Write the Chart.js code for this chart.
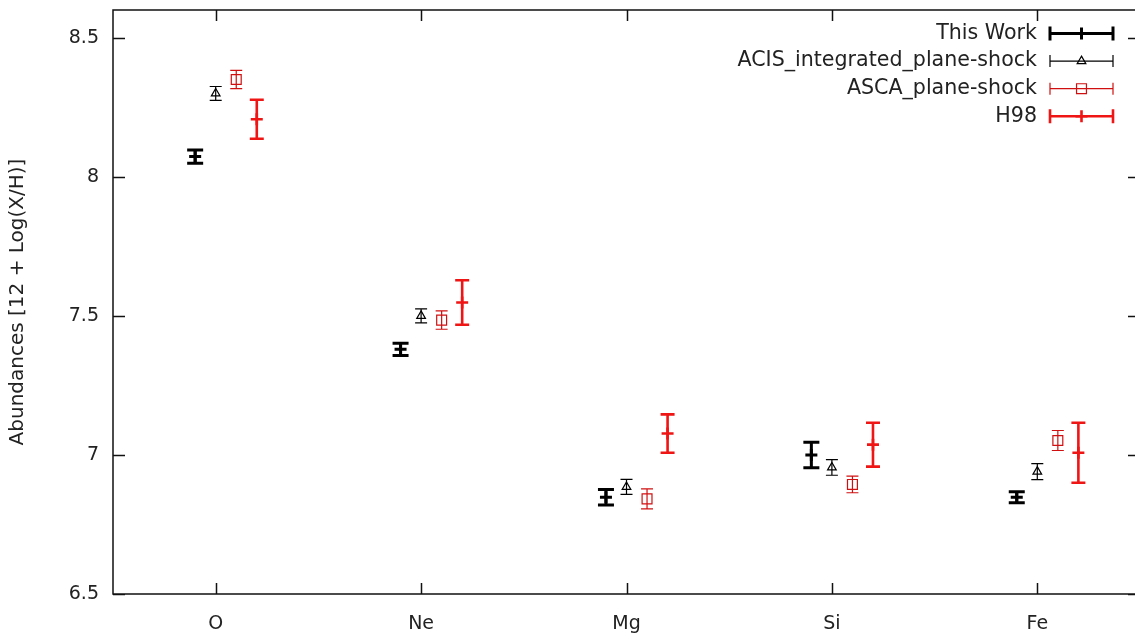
<!DOCTYPE html>
<html>
<head>
<meta charset="utf-8">
<script src="https://cdn.jsdelivr.net/npm/chart.js@4/dist/chart.umd.min.js"></script>
<style>
  html, body { margin: 0; padding: 0; background: #fff; overflow: hidden; }
</style>
</head>
<body>
<!-- the right frame edge sits just past the window, so the canvas runs a bit wider -->
<canvas id="abund" width="1149" height="637"></canvas>
<script>
const elements = ['O', 'Ne', 'Mg', 'Si', 'Fe'];
const yTicks = [6.5, 7, 7.5, 8, 8.5];

const thisWork    = [8.073, 7.380, 6.848, 7.000, 6.848];
const thisWorkErr = [0.024, 0.022, 0.028, 0.046, 0.020];
const acis        = [8.300, 7.500, 6.885, 6.955, 6.940];
const acisErr     = [0.025, 0.025, 0.027, 0.028, 0.029];
const asca        = [8.350, 7.485, 6.842, 6.894, 7.052];
const ascaErr     = [0.033, 0.033, 0.036, 0.030, 0.036];
const h98         = [8.207, 7.548, 7.077, 7.037, 7.008];
const h98Err      = [0.070, 0.080, 0.069, 0.079, 0.108];

const FONT = 'DejaVu Sans';
const TEXT = '#222';

// one entry per data set: values, errors, horizontal shift and look
const series = [
  { label: 'This Work', values: thisWork, errs: thisWorkErr, shift: -0.1,
    color: '#000', width: 3, cap: 8, style: 'cross', radius: 6, mw: 3 },
  { label: 'ACIS_integrated_plane-shock', values: acis, errs: acisErr, shift: 0,
    color: '#000', width: 1.2, cap: 6, style: 'triangle', radius: 5, mw: 1.2 },
  { label: 'ASCA_plane-shock', values: asca, errs: ascaErr, shift: 0.1,
    color: '#d01010', width: 1.2, cap: 6, style: 'rect', radius: 7, mw: 1.2 },
  { label: 'H98', values: h98, errs: h98Err, shift: 0.2,
    color: '#f01515', width: 2.6, cap: 7, style: 'cross', radius: 6, mw: 2.6 }
];

// plot frame with gnuplot-like inward ticks
const frame = {
  id: 'frame',
  beforeDatasetsDraw(chart) {
    const { ctx, chartArea: a, scales: { x, y } } = chart;
    ctx.save();
    ctx.strokeStyle = '#111';
    ctx.lineWidth = 1.5;
    ctx.beginPath();
    ctx.moveTo(a.right, a.top); ctx.lineTo(a.left, a.top);
    ctx.lineTo(a.left, a.bottom); ctx.lineTo(a.right, a.bottom);
    ctx.lineTo(a.right, a.top);
    y.ticks.forEach(t => {
      const py = Math.round(y.getPixelForValue(t.value)) + 0.5;
      ctx.moveTo(a.left, py); ctx.lineTo(a.left + 12, py);
      ctx.moveTo(a.right - 12, py); ctx.lineTo(a.right, py);
    });
    x.ticks.forEach(t => {
      const px = Math.round(x.getPixelForValue(t.value)) + 0.5;
      ctx.moveTo(px, a.bottom); ctx.lineTo(px, a.bottom - 11);
      ctx.moveTo(px, a.top); ctx.lineTo(px, a.top + 11);
    });
    ctx.stroke();
    ctx.restore();
  }
};

const errorBars = {
  id: 'errorBars',
  beforeDatasetsDraw(chart) {
    const { ctx, scales: { x, y } } = chart;
    series.forEach(s => {
      ctx.save();
      ctx.strokeStyle = s.color;
      ctx.lineWidth = s.width;
      ctx.beginPath();
      s.values.forEach((v, i) => {
        const px = x.getPixelForValue(i + 1 + s.shift);
        const top = y.getPixelForValue(v + s.errs[i]);
        const bot = y.getPixelForValue(v - s.errs[i]);
        ctx.moveTo(px, top); ctx.lineTo(px, bot);
        ctx.moveTo(px - s.cap, top); ctx.lineTo(px + s.cap, top);
        ctx.moveTo(px - s.cap, bot); ctx.lineTo(px + s.cap, bot);
      });
      ctx.stroke();
      ctx.restore();
    });
  }
};

// key in the top right corner: label, then a sample error bar
const key = {
  id: 'key',
  afterDraw(chart) {
    const { ctx } = chart;
    ctx.save();
    ctx.font = `20.6px "${FONT}"`;
    ctx.textAlign = 'right';
    ctx.textBaseline = 'middle';
    series.forEach((s, i) => {
      const ky = 33.5 + i * 27.6;
      ctx.fillStyle = TEXT;
      ctx.fillText(s.label, 1037, ky);
      const x0 = 1050, x1 = 1113, h = s.width > 2 ? 7 : 6;
      ctx.strokeStyle = s.color;
      ctx.lineWidth = s.width;
      ctx.beginPath();
      ctx.moveTo(x0, ky); ctx.lineTo(x1, ky);
      ctx.moveTo(x0, ky - h); ctx.lineTo(x0, ky + h);
      ctx.moveTo(x1, ky - h); ctx.lineTo(x1, ky + h);
      ctx.stroke();
      ctx.fillStyle = 'rgba(0,0,0,0)';
      ctx.lineWidth = s.mw;
      Chart.helpers.drawPoint(ctx, { pointStyle: s.style, radius: s.radius, rotation: 0, borderWidth: s.mw },
        (x0 + x1) / 2, ky);
    });
    ctx.restore();
  }
};

new Chart(document.getElementById('abund'), {
  type: 'scatter',
  data: {
    datasets: series.map(s => ({
      label: s.label,
      data: s.values.map((v, i) => ({ x: i + 1 + s.shift, y: v })),
      pointStyle: s.style,
      pointRadius: s.radius,
      pointHoverRadius: s.radius,
      borderColor: s.color,
      borderWidth: s.mw,
      backgroundColor: 'rgba(0,0,0,0)',
      showLine: false
    }))
  },
  options: {
    responsive: false,
    devicePixelRatio: 1,
    animation: false,
    layout: { padding: { top: 10, right: 0, bottom: 0, left: 0 } },
    plugins: { legend: { display: false }, tooltip: { enabled: false } },
    scales: {
      x: {
        type: 'linear',
        min: 0.5,
        max: 5.5,
        afterBuildTicks: s => { s.ticks = elements.map((_, i) => ({ value: i + 1 })); },
        afterFit: s => { s.height = 43; s.paddingLeft = 0; s.paddingRight = 0; },
        grid: { display: false, drawTicks: false },
        border: { display: false },
        ticks: {
          padding: 19,
          color: TEXT,
          font: { family: FONT, size: 19 },
          callback: v => elements[v - 1] || ''
        }
      },
      y: {
        min: 6.5,
        max: 8.6,
        afterBuildTicks: s => { s.ticks = yTicks.map(v => ({ value: v })); },
        afterFit: s => { s.width = 113; s.paddingTop = 0; s.paddingBottom = 0; },
        grid: { display: false, drawTicks: false },
        border: { display: false },
        ticks: {
          padding: 14,
          color: TEXT,
          font: { family: FONT, size: 19 },
          callback: v => String(v)
        },
        title: {
          display: true,
          text: 'Abundances [12 + Log(X/H)]',
          color: TEXT,
          font: { family: FONT, size: 20 },
          padding: { top: 6, bottom: 0 }
        }
      }
    }
  },
  plugins: [frame, errorBars, key]
});
</script>
</body>
</html>
